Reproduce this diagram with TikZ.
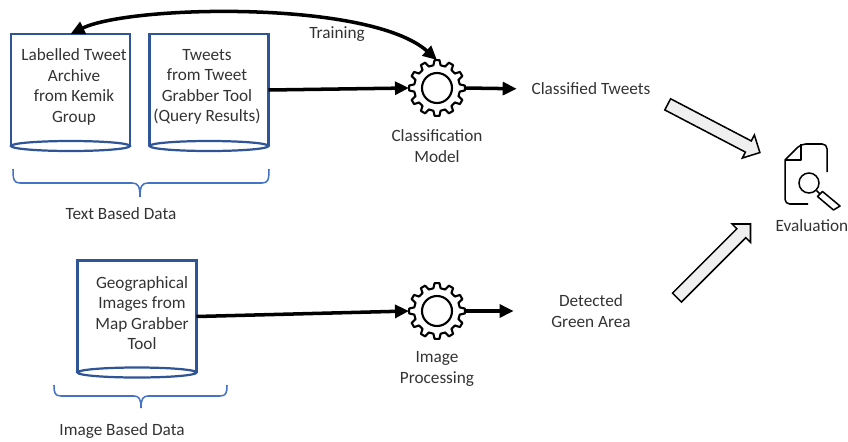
\documentclass[tikz,border=0pt]{standalone}
\usepackage{fontspec}
\usepackage{xcolor}
\setmainfont{Carlito}
\usetikzlibrary{arrows.meta,shapes.arrows}
\definecolor{tankblue}{HTML}{2F5597}
\definecolor{braceblue}{HTML}{4472C4}
\definecolor{labelgray}{HTML}{333333}
\definecolor{hollowgray}{HTML}{EFEFEF}

\begin{document}
\begin{tikzpicture}[x=0.03cm,y=-0.03cm,
	tanktext/.style={draw=none,align=center,inner sep=0pt,text=labelgray,font=\fontsize{14.7}{17.5}\selectfont},
	tankbox/.style={draw=none,minimum width=3.57cm,minimum height=3.36cm,inner sep=0pt,outer sep=0pt},
	tankline/.style={draw=tankblue,line width=1.9pt},
	gearbox/.style={draw=none,circle,minimum size=1.68cm,inner sep=0pt,outer sep=0pt},
	flow/.style={-{Triangle[length=12pt,width=11pt]},line width=3pt,black},
	bracket/.style={draw=braceblue,line width=1.3pt},
	hollow/.style={draw=black,fill=hollowgray,line width=1.3pt,single arrow,minimum height=3.12cm,minimum width=.78cm,single arrow head extend=.2cm,inner sep=.165cm},
	gearpic/.pic={
		\draw[line width=1.8pt,line join=round] (-5:28)
		\foreach \a in {0,30,...,330} {
			-- (\a+5:28) -- (\a+9:23) -- (\a+21:23) -- (\a+25:28)
		} -- cycle;
		\draw[line width=1.8pt] (0,0) circle (15);
	}]
	\useasboundingbox (0,0) rectangle (848,441);

	% data stores
	\node (archive)[tankbox] at (70.5,90) {};
	\node (tweets)[tankbox] at (209,90) {};
	\node (geo)[tankbox] at (137,316.5) {};
	\foreach \t in {archive,tweets,geo} {
		\draw[tankline] (\t.south west)--(\t.north west)--(\t.north east)--(\t.south east);
		\draw[tankline] (\t.south) ellipse (59.5 and 5);
	}
	\node (archivetext)[tanktext] at (74,87) {Labelled Tweet\\Archive\\from Kemik\\Group};
	\node (tweetstext)[tanktext] at (207,87) {Tweets\\from Tweet\\Grabber Tool\\(Query Results)};
	\node (geotext)[tanktext] at (142,313) {Geographical\\Images from\\Map Grabber\\Tool};

	% gears
	\node (model)[gearbox] at (437,88) {};
	\node (proc)[gearbox] at (437,311) {};
	\pic at (model) {gearpic};
	\pic at (proc) {gearpic};

	\node (modeltext)[tanktext] at (437,146) {Classification\\Model};
	\node (proctext)[tanktext] at (437,369) {Image\\Processing};
	\node (training)[tanktext] at (337,34) {Training};
	\node (classified)[tanktext] at (591,89) {Classified Tweets};
	\node (detected)[tanktext] at (591,311) {Detected\\Green Area};

	\draw[flow] (tweets.east)--(model.west);
	\draw[flow] (geo.east)--(proc.west);
	\draw[flow,shorten >=12.5pt] (model.east)--(classified.west);
	\draw[flow,shorten >=32pt] (proc.east)--(detected.west);
	\draw[flow,<->,>={Triangle[length=12pt,width=11pt]}] (archive.north) .. controls (130,5) and (370,0) .. (model.north);

	% braces
	\draw[bracket] (13,169) .. controls (13,180) and (14,183) .. (20,183) -- (132,183)
		.. controls (138,183) and (140,186) .. (140,197)
		.. controls (140,186) and (142,183) .. (148,183) -- (262,183)
		.. controls (268,183) and (269,180) .. (269,169);
	\draw[bracket] (54,385) .. controls (54,393) and (55,396) .. (61,396) -- (134,396)
		.. controls (139,396) and (141,399) .. (141,408)
		.. controls (141,399) and (143,396) .. (148,396) -- (220,396)
		.. controls (226,396) and (227,393) .. (227,385);
	\node (textdata)[tanktext] at (121,214) {Text Based Data};
	\node (imagedata)[tanktext] at (122,431) {Image Based Data};

	% hollow arrows to the evaluation
	\node (upper)[hollow,rotate=-27.6] at (711,127) {};
	\node (lower)[hollow,rotate=45] at (711.5,263) {};

	% evaluation icon
	\draw[line width=1.3pt,line join=round] (827,172)--(827,150) [rounded corners=4pt] --(827,144)--(801,144) [sharp corners] --(785,160) [rounded corners=4pt] --(785,204)--(808,204);
	\draw[line width=1.3pt,line join=round] (801,144)--(801,160)--(785,160);
	\draw[line width=1.3pt] (809,183) circle (10);
	\draw[line width=1.3pt] (816.5,190.5)--(820,194);
	\draw[line width=1.3pt,line join=round] (817.5,196.5)--(822.5,191.5)--(840,206)--(833.5,210)--cycle;
	\node (evaluation)[tanktext] at (812,226) {Evaluation};
\end{tikzpicture}
\end{document}
